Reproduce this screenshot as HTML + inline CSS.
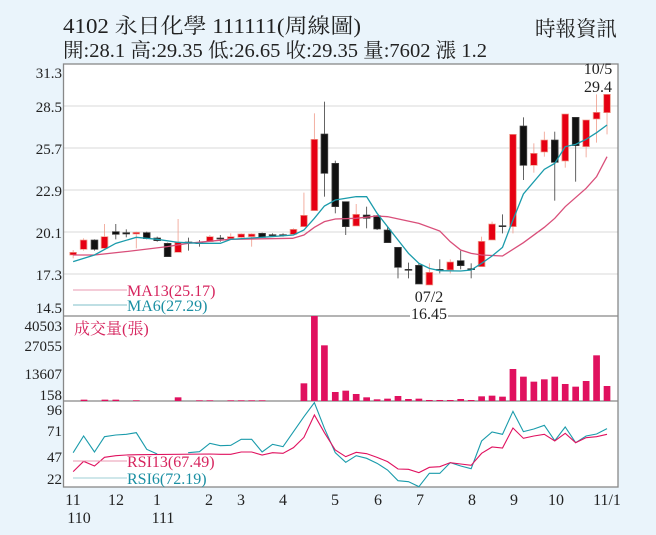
<!DOCTYPE html>
<html><head><meta charset="utf-8"><style>
html,body{margin:0;padding:0;background:#eaf4fb;}
svg{display:block}
text{font-family:"Liberation Serif","Noto Serif CJK SC","Noto Sans CJK TC",serif;}
</style></head><body>
<svg width="656" height="535" viewBox="0 0 656 535" xmlns="http://www.w3.org/2000/svg">
<rect width="656" height="535" fill="#eaf4fb"/>
<rect x="63" y="64" width="555" height="423" fill="#fff"/>
<g stroke="#d8d8d8" stroke-width="1">
<line x1="63" x2="618" y1="106" y2="106"/><line x1="63" x2="618" y1="148" y2="148"/>
<line x1="63" x2="618" y1="190" y2="190"/><line x1="63" x2="618" y1="232" y2="232"/>
<line x1="63" x2="618" y1="274" y2="274"/>
</g>
<g fill="none" stroke="#888" stroke-width="1.3">
<rect x="63.5" y="64" width="554.5" height="423"/>
<line x1="63" x2="618" y1="316" y2="316"/>
<line x1="63" x2="618" y1="401" y2="401"/>
</g>
<text x="63" y="33" font-size="21" fill="#222" textLength="298" lengthAdjust="spacingAndGlyphs">4102  永日化學 111111(周線圖)</text>
<text x="63" y="57" font-size="20" fill="#222" textLength="424" lengthAdjust="spacingAndGlyphs">開:28.1 高:29.35 低:26.65 收:29.35 量:7602 漲 1.2</text>
<text x="535" y="36" font-size="21" fill="#222" textLength="82" lengthAdjust="spacingAndGlyphs">時報資訊</text>
<g font-size="15" fill="#222" text-anchor="end">
<text x="62" y="78">31.3</text><text x="62" y="112">28.5</text><text x="62" y="154">25.7</text>
<text x="62" y="196">22.9</text><text x="62" y="238">20.1</text><text x="62" y="280">17.3</text>
<text x="62" y="313">14.5</text>
<text x="62" y="331">40503</text><text x="62" y="351">27055</text><text x="62" y="379">13607</text>
<text x="62" y="400">158</text>
<text x="62" y="415">96</text><text x="62" y="436">71</text><text x="62" y="462">47</text><text x="62" y="484">22</text>
</g>
<g transform="scale(0.41806,0.33333)">
<g stroke-width="2" vector-effect="non-scaling-stroke">
<!-- candles -->
<g stroke="#f0a090" fill="#e60012">
<line x1="175" x2="175" y1="750" y2="775"/><rect x="167" y="757" width="16" height="8"/>
<line x1="200" x2="200" y1="715" y2="752"/><rect x="192" y="720" width="16" height="28"/>
<line x1="250" x2="250" y1="672" y2="750"/><rect x="242" y="710" width="16" height="35"/>
<line x1="326" x2="326" y1="695" y2="745"/><rect x="318" y="697" width="16" height="5"/>
<line x1="426" x2="426" y1="657" y2="757"/><rect x="418" y="727" width="16" height="30"/>
<line x1="502" x2="502" y1="705" y2="725"/><rect x="494" y="710" width="16" height="15"/>
<line x1="552" x2="552" y1="700" y2="720"/><rect x="544" y="710" width="16" height="6"/>
<line x1="577" x2="577" y1="700" y2="715"/><rect x="569" y="702" width="16" height="10"/>
<line x1="602" x2="602" y1="700" y2="740"/><rect x="594" y="702" width="16" height="8"/>
<line x1="702" x2="702" y1="685" y2="705"/><rect x="694" y="688" width="16" height="15"/>
<line x1="727" x2="727" y1="578" y2="680"/><rect x="719" y="646" width="16" height="34"/>
<line x1="752" x2="752" y1="340" y2="632"/><rect x="744" y="418" width="16" height="214"/>
<line x1="852" x2="852" y1="612" y2="678"/><rect x="844" y="643" width="16" height="35"/>
<line x1="1027" x2="1027" y1="790" y2="855"/><rect x="1019" y="817" width="16" height="38"/>
<line x1="1077" x2="1077" y1="778" y2="820"/><rect x="1069" y="786" width="16" height="24"/>
<line x1="1152" x2="1152" y1="710" y2="800"/><rect x="1144" y="724" width="16" height="76"/>
<line x1="1177" x2="1177" y1="665" y2="720"/><rect x="1169" y="672" width="16" height="48"/>
<line x1="1227" x2="1227" y1="403" y2="700"/><rect x="1219" y="403" width="16" height="277"/>
<line x1="1277" x2="1277" y1="430" y2="518"/><rect x="1269" y="460" width="16" height="36"/>
<line x1="1302" x2="1302" y1="395" y2="470"/><rect x="1294" y="420" width="16" height="36"/>
<line x1="1352" x2="1352" y1="342" y2="503"/><rect x="1344" y="342" width="16" height="141"/>
<line x1="1402" x2="1402" y1="360" y2="472"/><rect x="1394" y="360" width="16" height="80"/>
<line x1="1427" x2="1427" y1="283" y2="428"/><rect x="1419" y="337" width="16" height="20"/>
<line x1="1452" x2="1452" y1="283" y2="403"/><rect x="1444" y="283" width="16" height="55"/>
</g>
<g stroke="#444" fill="#111">
<line x1="226" x2="226" y1="718" y2="752"/><rect x="218" y="720" width="16" height="28"/>
<line x1="277" x2="277" y1="672" y2="718"/><rect x="269" y="695" width="16" height="8"/>
<line x1="302" x2="302" y1="688" y2="712"/><rect x="294" y="698" width="16" height="4"/>
<line x1="351" x2="351" y1="695" y2="718"/><rect x="343" y="698" width="16" height="18"/>
<line x1="376" x2="376" y1="710" y2="725"/><rect x="368" y="714" width="16" height="8"/>
<line x1="401" x2="401" y1="728" y2="770"/><rect x="393" y="730" width="16" height="40"/>
<line x1="451" x2="451" y1="713" y2="752"/><rect x="443" y="726" width="16" height="3"/>
<line x1="477" x2="477" y1="720" y2="740"/><rect x="469" y="728" width="16" height="3"/>
<line x1="527" x2="527" y1="705" y2="725"/><rect x="519" y="714" width="16" height="3"/>
<line x1="627" x2="627" y1="698" y2="714"/><rect x="619" y="700" width="16" height="12"/>
<line x1="652" x2="652" y1="700" y2="710"/><rect x="644" y="704" width="16" height="3"/>
<line x1="677" x2="677" y1="700" y2="710"/><rect x="669" y="704" width="16" height="3"/>
<line x1="776" x2="776" y1="305" y2="590"/><rect x="768" y="402" width="16" height="118"/>
<line x1="802" x2="802" y1="482" y2="640"/><rect x="794" y="490" width="16" height="130"/>
<line x1="827" x2="827" y1="605" y2="705"/><rect x="819" y="605" width="16" height="75"/>
<line x1="877" x2="877" y1="620" y2="685"/><rect x="869" y="645" width="16" height="10"/>
<line x1="902" x2="902" y1="645" y2="690"/><rect x="894" y="647" width="16" height="40"/>
<line x1="927" x2="927" y1="680" y2="728"/><rect x="919" y="690" width="16" height="38"/>
<line x1="952" x2="952" y1="742" y2="835"/><rect x="944" y="742" width="16" height="60"/>
<line x1="977" x2="977" y1="788" y2="835"/><rect x="969" y="808" width="16" height="3"/>
<line x1="1002" x2="1002" y1="790" y2="852"/><rect x="994" y="796" width="16" height="56"/>
<line x1="1052" x2="1052" y1="778" y2="820"/><rect x="1044" y="808" width="16" height="3"/>
<line x1="1102" x2="1102" y1="752" y2="808"/><rect x="1094" y="782" width="16" height="15"/>
<line x1="1127" x2="1127" y1="790" y2="835"/><rect x="1119" y="806" width="16" height="3"/>
<line x1="1202" x2="1202" y1="643" y2="700"/><rect x="1194" y="677" width="16" height="3"/>
<line x1="1252" x2="1252" y1="352" y2="540"/><rect x="1244" y="378" width="16" height="118"/>
<line x1="1327" x2="1327" y1="395" y2="602"/><rect x="1319" y="420" width="16" height="67"/>
<line x1="1377" x2="1377" y1="352" y2="545"/><rect x="1369" y="352" width="16" height="85"/>
</g>
</g>
<polyline fill="none" stroke="#d94f7a" stroke-width="1.3" vector-effect="non-scaling-stroke" points="175,765 226,765 300,755 400,740 450,730 550,718 700,715 727,705 752,682 776,665 802,657 852,655 902,648 927,650 1002,670 1052,693 1077,725 1102,750 1127,760 1152,765 1202,768 1252,728 1302,682 1327,655 1352,620 1402,565 1427,530 1452,470"/>
<polyline fill="none" stroke="#1a9bab" stroke-width="1.3" vector-effect="non-scaling-stroke" points="175,785 226,765 277,730 326,712 376,718 426,727 477,730 527,730 552,718 627,712 702,705 727,690 752,655 776,618 802,600 852,590 877,590 902,640 927,680 952,720 977,760 1002,790 1027,805 1052,812 1102,813 1127,810 1152,790 1177,768 1202,742 1227,660 1252,582 1302,508 1327,490 1352,440 1377,433 1402,418 1427,398 1452,375"/>
<g transform="translate(0,900)">
<g fill="#e0115f">
<rect x="193" y="299" width="16" height="4"/><rect x="243" y="299" width="16" height="4"/><rect x="269" y="299" width="16" height="4"/>
<rect x="318" y="301" width="16" height="2"/><rect x="418" y="292" width="16" height="11"/><rect x="469" y="301" width="16" height="2"/>
<rect x="494" y="301" width="16" height="2"/><rect x="544" y="301" width="16" height="2"/><rect x="569" y="301" width="16" height="2"/>
<rect x="594" y="301" width="16" height="2"/><rect x="619" y="301" width="16" height="2"/>
<rect x="719" y="250" width="16" height="53"/><rect x="744" y="48" width="16" height="255"/><rect x="768" y="136" width="16" height="167"/>
<rect x="794" y="276" width="16" height="27"/><rect x="819" y="272" width="16" height="31"/><rect x="844" y="282" width="16" height="21"/>
<rect x="869" y="292" width="16" height="11"/><rect x="894" y="298" width="16" height="5"/><rect x="919" y="296" width="16" height="7"/>
<rect x="944" y="288" width="16" height="15"/><rect x="969" y="297" width="16" height="6"/><rect x="994" y="296" width="16" height="7"/>
<rect x="1019" y="300" width="16" height="3"/><rect x="1044" y="300" width="16" height="3"/><rect x="1069" y="300" width="16" height="3"/>
<rect x="1094" y="297" width="16" height="6"/><rect x="1119" y="300" width="16" height="3"/><rect x="1144" y="289" width="16" height="14"/>
<rect x="1169" y="287" width="16" height="16"/><rect x="1194" y="290" width="16" height="13"/><rect x="1219" y="207" width="16" height="96"/>
<rect x="1244" y="230" width="16" height="73"/><rect x="1269" y="245" width="16" height="58"/><rect x="1294" y="238" width="16" height="65"/>
<rect x="1319" y="230" width="16" height="73"/><rect x="1344" y="252" width="16" height="51"/><rect x="1369" y="260" width="16" height="43"/>
<rect x="1394" y="243" width="16" height="60"/><rect x="1419" y="166" width="16" height="137"/><rect x="1444" y="258" width="16" height="45"/>
</g>
<polyline fill="none" stroke="#1a9bab" stroke-width="1.1" vector-effect="non-scaling-stroke" points="175,458 200,408 226,456 250,410 277,405 302,403 326,398 351,448 376,462"/>
<polyline fill="none" stroke="#1a9bab" stroke-width="1.1" vector-effect="non-scaling-stroke" points="450,458 477,455 502,430 527,437 552,436 577,418 602,418 627,456 652,433 677,440 702,395 727,350 752,308 776,385 802,458 827,487 852,467 877,475 902,490 927,510 952,542 977,545 1002,560 1027,520 1052,520 1077,488 1102,498 1127,506 1152,423 1177,396 1202,403 1227,334 1252,395 1277,387 1302,376 1327,422 1352,381 1377,428 1402,408 1427,402 1452,386"/>
<polyline fill="none" stroke="#e0115f" stroke-width="1.1" vector-effect="non-scaling-stroke" points="175,515 200,484 226,498 250,472 277,467 302,465 330,464 502,462 527,463 552,463 577,456 602,456 627,465 652,458 677,460 702,443 727,412 752,345 776,398 802,450 827,470 852,457 877,461 902,472 927,485 952,507 977,508 1002,518 1027,502 1052,500 1077,488 1102,492 1127,496 1152,460 1177,441 1202,444 1227,384 1252,415 1277,408 1302,403 1327,423 1352,400 1377,428 1402,413 1427,410 1452,403"/>
</g>
</g>
<g stroke-width="1">
<line x1="73" x2="127" y1="290" y2="290" stroke="#e89ab0"/>
<line x1="73" x2="127" y1="305" y2="305" stroke="#7fbfc8"/>
<line x1="73" x2="127" y1="461" y2="461" stroke="#e89ab0"/>
<line x1="73" x2="127" y1="478" y2="478" stroke="#9fcfd6"/>
</g>
<g font-size="16">
<text x="127" y="296" fill="#d6245e">MA13(25.17)</text>
<text x="127" y="311" fill="#1a8fa3">MA6(27.29)</text>
<text x="74" y="334" fill="#d6245e" font-size="16">成交量(張)</text>
<text x="127" y="467" fill="#d6245e">RSI13(67.49)</text>
<text x="127" y="484" fill="#1a8fa3">RSI6(72.19)</text>
</g>
<g font-size="16" fill="#222" text-anchor="middle">
<text x="429" y="302">07/2</text>
<rect x="410" y="308" width="38" height="12" fill="#fff"/>
<text x="429" y="319">16.45</text>
<text x="598" y="74">10/5</text>
<text x="598" y="92">29.4</text>
</g>
<g font-size="16" fill="#222" text-anchor="middle">
<text x="73" y="505">11</text><text x="116" y="505">12</text><text x="157" y="505">1</text>
<text x="209" y="505">2</text><text x="241" y="505">3</text><text x="283" y="505">4</text>
<text x="335" y="505">5</text><text x="378" y="505">6</text><text x="420" y="505">7</text>
<text x="472" y="505">8</text><text x="514" y="505">9</text><text x="556" y="505">10</text>
<text x="607" y="505">11/1</text>
<text x="79" y="523">110</text><text x="163" y="523">111</text>
</g>
</svg>
</body></html>
